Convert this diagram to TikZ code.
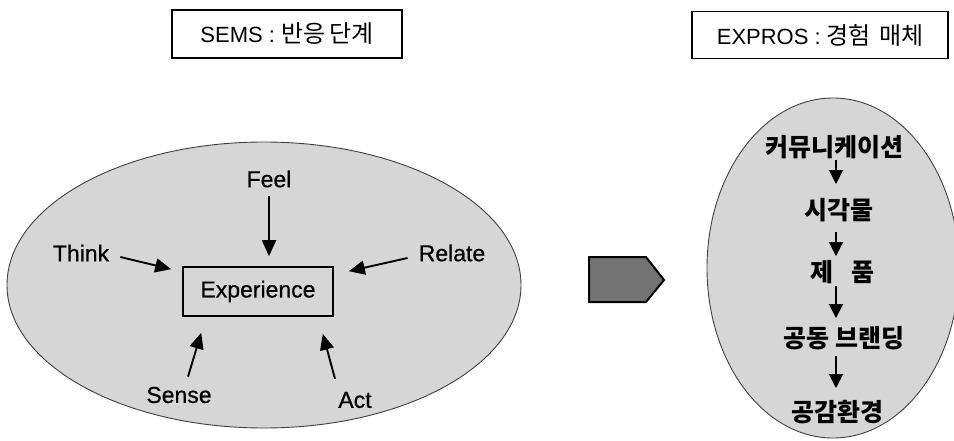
\documentclass[tikz,border=0pt]{standalone}
\usepackage{fontspec}
\setmainfont{Liberation Sans}
\newfontfamily\semib[FakeBold=0.6]{Liberation Sans}
\newfontfamily\kr{Noto Sans CJK KR}
\usetikzlibrary{arrows.meta}
\tikzset{
  hdr/.style={draw=black, line width=1.3pt, fill=white, inner sep=0pt, font=\fontsize{22}{26}\selectfont},
  lbl/.style={inner sep=0pt, font=\fontsize{23}{27}\selectfont\semib},
  krl/.style={inner sep=0pt, font=\fontsize{25}{29}\selectfont\kr\bfseries},
  area/.style={fill=black!16, draw=black!75, line width=0.9pt},
  arrL/.style={line width=1.9pt, -{Triangle[length=16pt,width=14pt]}},
  arrR/.style={line width=1.9pt, -{Triangle[length=14pt,width=14pt]}},
}
\begin{document}
\begin{tikzpicture}[x=1pt,y=-1pt]
\useasboundingbox (0,0) rectangle (954,441);
\clip (0,0) rectangle (954,441);
% headers
\node[hdr, minimum width=230pt, minimum height=48pt] (sems) at (287,34) {SEMS : {\kr\fontsize{24}{28}\selectfont 반응\hspace{4pt}단계}};
\node[hdr, minimum width=256pt, minimum height=47pt] (expros) at (820,35) {EXPROS : {\kr\fontsize{24}{28}\selectfont 경험\hspace{8pt}매체}};
% left ellipse
\path[area] (264,285) ellipse [x radius=257, y radius=143];
\node[draw=black, line width=1.6pt, minimum width=150pt, minimum height=49pt, lbl] (exp) at (258,291.5) {Experience};
\node[lbl] (feel) at (269,179) {Feel};
\node[lbl] (think) at (81,253) {Think};
\node[lbl] (relate) at (452,253) {Relate};
\node[lbl] (sense) at (179,395) {Sense};
\node[lbl] (act) at (355,400) {Act};
\draw[arrL] ([yshift=-8pt]feel.south) -- ([yshift=10pt]exp.north -| feel);
\draw[arrL] ([xshift=11pt,yshift=-4pt]think.east) -- ([xshift=-11pt,yshift=-3pt]exp.north west);
\draw[arrL] ([xshift=-11pt,yshift=-5pt]relate.west) -- ([xshift=15pt,yshift=-5pt]exp.north east);
\draw[arrL] ([xshift=9pt,yshift=10pt]sense.north) -- ([xshift=19pt,yshift=-16pt]exp.south west);
\draw[arrL] ([xshift=-20pt,yshift=13pt]act.north) -- ([xshift=-11pt,yshift=-17pt]exp.south east);
% big arrow
\draw[line width=2pt, fill=black!55] (589,257) -- (646,257) -- (664,280) -- (646,302) -- (589,302) -- cycle;
% right ellipse
\path[area] (833,268) ellipse [x radius=126, y radius=170];
\coordinate (ax) at (836,0);
\node[krl] (k1) at (834,147) {커뮤니케이션};
\node[krl] (k2) at (839,210) {시각물};
\node[krl] (k3) at (842,272) {제\hspace{18pt}품};
\node[krl] (k4) at (844,338) {공동\hspace{6pt}브랜딩};
\node[krl] (k5) at (837,412) {공감환경};
\draw[arrR] ([yshift=-1pt]k1.south -| ax) -- ([yshift=14pt]k2.north -| ax);
\draw[arrR] ([yshift=-10pt]k2.south -| ax) -- ([yshift=4pt]k3.north -| ax);
\draw[arrR] ([yshift=-2pt]k3.south -| ax) -- ([yshift=8pt]k4.north -| ax);
\draw[arrR] ([yshift=-6pt]k4.south -| ax) -- ([yshift=12pt]k5.north -| ax);
\end{tikzpicture}
\end{document}
